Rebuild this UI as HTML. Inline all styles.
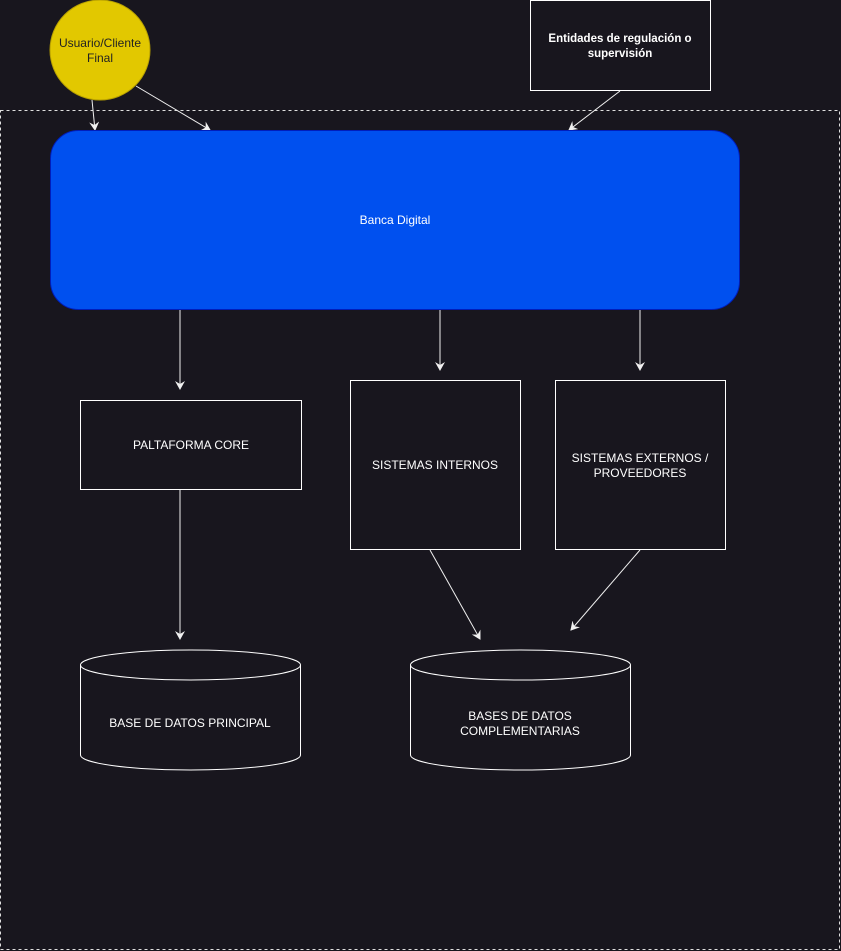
<!DOCTYPE html>
<html><head><style>
html,body{margin:0;padding:0;background:#18161e;}
svg{display:block;}
text{font-family:"Liberation Sans",Arial,sans-serif;font-size:12px;fill:#fff;text-anchor:middle;}
</style></head><body>
<svg width="841" height="951" viewBox="0 0 841 951">
<defs>
<marker id="a" markerWidth="10" markerHeight="10" refX="8" refY="5" orient="auto" markerUnits="userSpaceOnUse">
<path d="M0,0 L9,5 L0,10 L3,5 Z" fill="#f0f0f0"/></marker>
</defs>
<rect width="841" height="951" fill="#18161e"/>
<rect x="0.5" y="110.5" width="839" height="839" fill="none" stroke="#e0e0e0" stroke-dasharray="3,3"/>
<circle cx="100" cy="50" r="50" fill="#e2c800" stroke="#b8a000"/>
<text x="100" y="47" fill="#222" style="fill:#222">Usuario/Cliente</text>
<text x="100" y="62" style="fill:#222">Final</text>
<rect x="530.5" y="0.5" width="180" height="90" fill="none" stroke="#fff"/>
<text x="620" y="42" font-weight="bold" style="font-size:11.5px">Entidades de regulación o</text>
<text x="620" y="57" font-weight="bold" style="font-size:11.5px">supervisión</text>
<g stroke="#f0f0f0" stroke-width="1" fill="none" marker-end="url(#a)">
<line x1="92" y1="100" x2="95" y2="130"/>
<line x1="136" y1="86" x2="210" y2="130"/>
<line x1="620" y1="91" x2="569" y2="130"/>
<line x1="180" y1="310" x2="180" y2="389"/>
<line x1="440" y1="310" x2="440" y2="370"/>
<line x1="640" y1="310" x2="640" y2="370"/>
<line x1="180" y1="490" x2="180" y2="639"/>
<line x1="430" y1="550" x2="480" y2="639"/>
<line x1="640" y1="550" x2="571" y2="630"/>
</g>
<rect x="50.5" y="130.5" width="689" height="179" rx="28" fill="#0050ef" stroke="#001dbc"/>
<text x="395" y="224">Banca Digital</text>
<rect x="80.5" y="400.5" width="221" height="89" fill="none" stroke="#fff"/>
<text x="191" y="449">PALTAFORMA CORE</text>
<rect x="350.5" y="380.5" width="170" height="169" fill="none" stroke="#fff"/>
<text x="435" y="469">SISTEMAS INTERNOS</text>
<rect x="555.5" y="380.5" width="170" height="169" fill="none" stroke="#fff"/>
<text x="640" y="462">SISTEMAS EXTERNOS /</text>
<text x="640" y="477">PROVEEDORES</text>
<g fill="none" stroke="#fff">
<path d="M80.5,665 A110,15 0 0 1 300.5,665 L300.5,755 A110,15 0 0 1 80.5,755 Z"/>
<path d="M80.5,665 A110,15 0 0 0 300.5,665"/>
<path d="M410.5,665 A110,15 0 0 1 630.5,665 L630.5,755 A110,15 0 0 1 410.5,755 Z"/>
<path d="M410.5,665 A110,15 0 0 0 630.5,665"/>
</g>
<text x="190" y="727">BASE DE DATOS PRINCIPAL</text>
<text x="520" y="720">BASES DE DATOS</text>
<text x="520" y="735">COMPLEMENTARIAS</text>
</svg>
</body></html>
